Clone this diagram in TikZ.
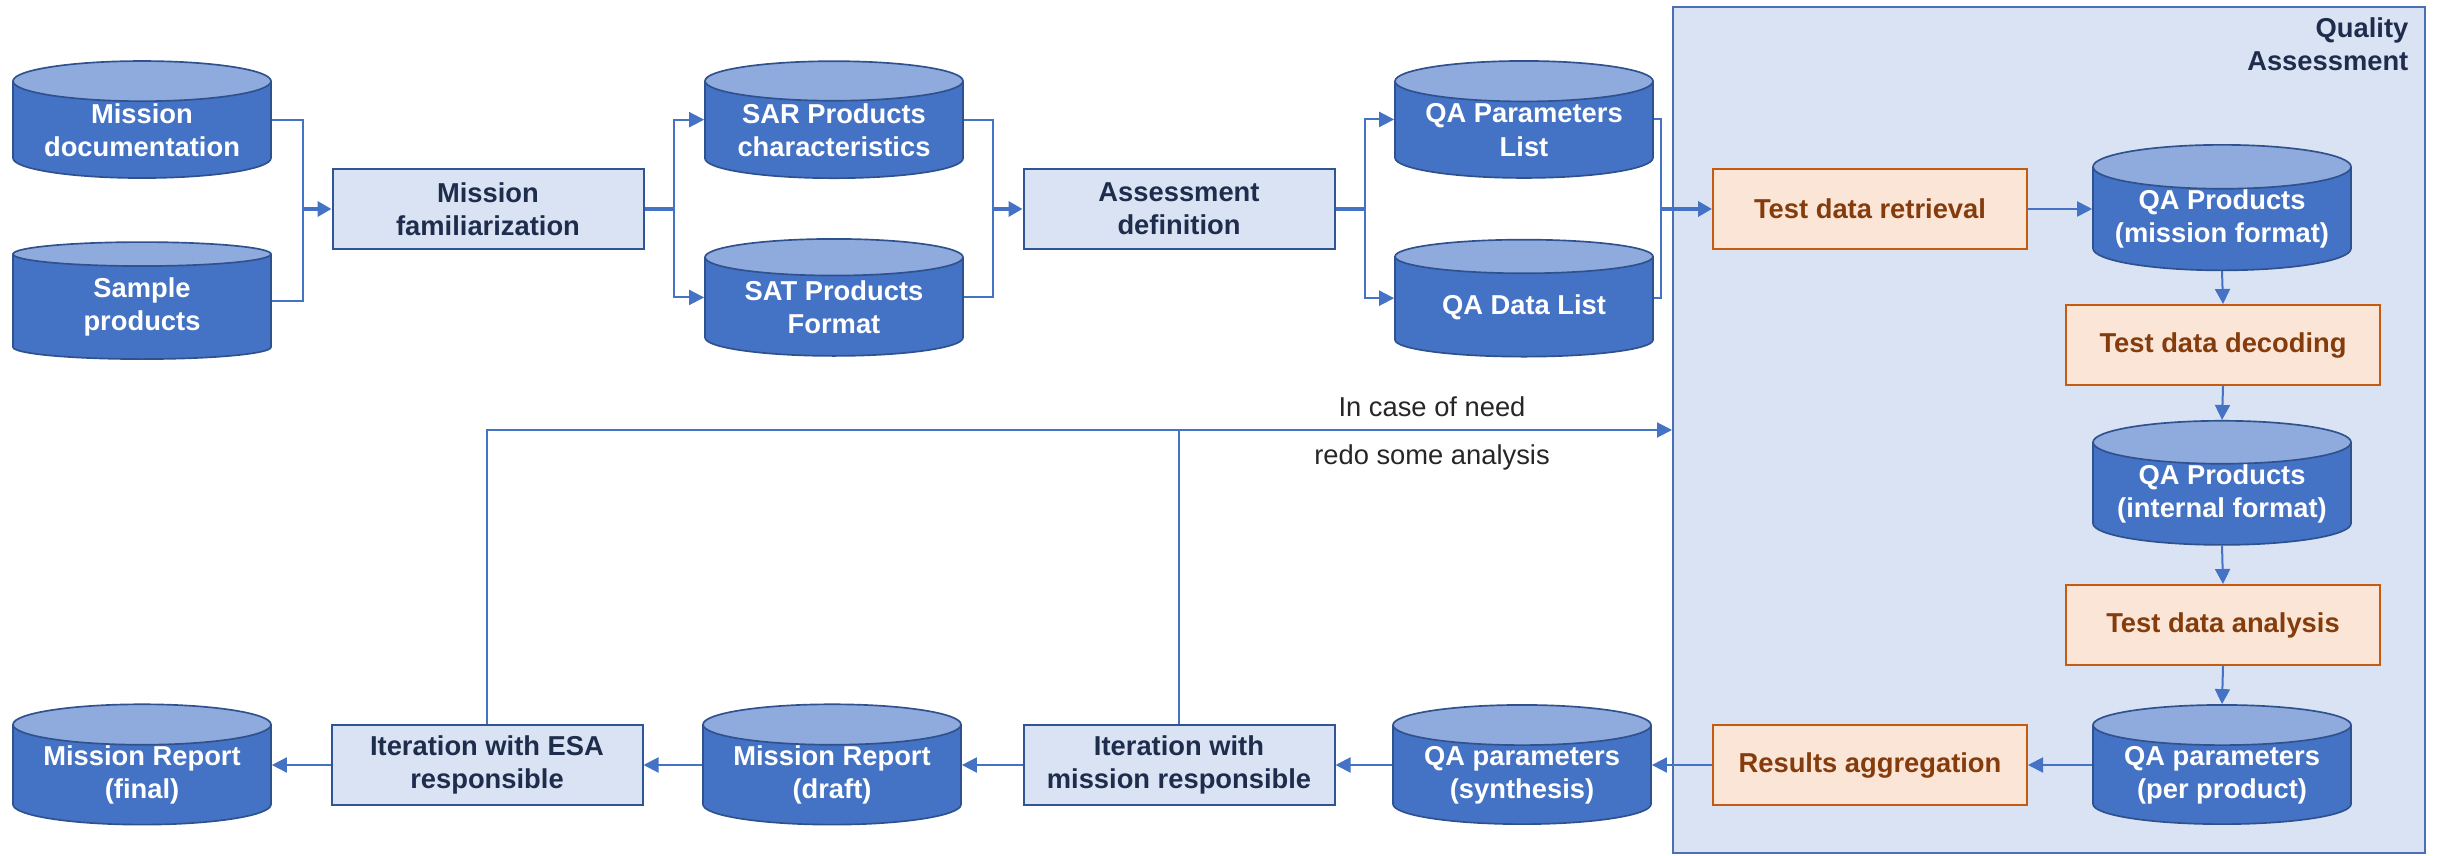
\documentclass[tikz,border=0pt]{standalone}
\usepackage{fontspec}
\setmainfont{Liberation Sans}
\usetikzlibrary{shapes.geometric, arrows.meta}

\definecolor{cylblue}{HTML}{4472C4}
\definecolor{cyltop}{HTML}{8FAADC}
\definecolor{cylline}{HTML}{2F528F}
\definecolor{boxfill}{HTML}{DAE3F3}
\definecolor{boxline}{HTML}{2F5597}
\definecolor{boxtext}{HTML}{1F2D4D}
\definecolor{taskfill}{HTML}{FBE5D6}
\definecolor{taskline}{HTML}{C55A11}
\definecolor{tasktext}{HTML}{843C0C}
\definecolor{flowblue}{HTML}{4472C4}
\definecolor{arealine}{HTML}{4A6FB5}

\begin{document}
\begin{tikzpicture}[x=0.3pt, y=-0.3pt,
    every node/.style={font=\fontsize{8.2}{10}\selectfont\bfseries},
    store/.style={cylinder, shape border rotate=90, aspect=0.205, draw=cylline, line width=0.5pt, cylinder uses custom fill, cylinder body fill=cylblue, cylinder end fill=cyltop, minimum width=77.4pt, minimum height=35.1pt, inner sep=0pt, text=white, align=center},
    activity/.style={rectangle, draw=boxline, line width=0.6pt, fill=boxfill, minimum width=93.3pt, minimum height=24pt, inner sep=0pt, text=boxtext, align=center},
    qatask/.style={rectangle, draw=taskline, line width=0.6pt, fill=taskfill, minimum width=94.2pt, minimum height=24pt, inner sep=0pt, text=tasktext, align=center},
    qaarea/.style={rectangle, draw=arealine, line width=0.6pt, fill=boxfill, minimum width=225.6pt, minimum height=253.8pt, inner sep=0pt},
    note/.style={font=\fontsize{8.2}{10}\selectfont, text=black!85},
    link/.style={draw=flowblue, line width=0.6pt},
    flow/.style={link, -{Triangle[length=4.5pt, width=4.5pt]}},
    merge/.style={draw=flowblue, line width=1.2pt, -{Triangle[length=4.2pt, width=4.5pt]}},
    bar/.style={draw=flowblue, line width=1.2pt}
]
\useasboundingbox (0,0) rectangle (2441,856);

% quality assessment area
\node[qaarea] (qa) at (2049,430) {};
\node[text=boxtext, align=right, anchor=east, inner sep=0pt] (qatitle) at (2409,44) {Quality\\Assessment};

% top row
\node[store] (doc) at (142,130) {Mission\\documentation};
\node[store] (sample) at (142,307) {Sample\\products};
\node[activity] (fam) at (488,209) {Mission\\familiarization};
\node[store] (sar) at (834,130) {SAR Products\\characteristics};
\node[store] (sat) at (834,307) {SAT Products\\Format};
\node[activity] (assess) at (1179,209) {Assessment\\definition};
\node[store] (qalist) at (1524,130) {QA Parameters\\List};
\node[store] (qadata) at (1524,307) {QA Data List};

% inside the assessment
\node[qatask] (retrieval) at (1870,209) {Test data retrieval};
\node[store] (qamission) at (2222,219) {QA Products\\(mission  format)};
\node[qatask] (decoding) at (2223,345) {Test data decoding};
\node[store] (qainternal) at (2222,494) {QA Products\\(internal format)};
\node[qatask] (analysis) at (2223,625) {Test data analysis};
\node[store] (perprod) at (2222,775) {QA parameters\\(per product)};
\node[qatask] (aggreg) at (1870,765) {Results  aggregation};

% bottom row
\node[store] (synth) at (1522,775) {QA parameters\\(synthesis)};
\node[activity] (resp) at (1179,765) {Iteration with\\mission  responsible};
\node[store] (draft) at (832,775) {Mission Report\\(draft)};
\node[activity] (esa) at (487,765) {Iteration with ESA\\responsible};
\node[store] (final) at (142,775) {Mission Report\\(final)};

% feedback labels
\node[note] (need) at (1432,407) {In case of need};
\node[note] (redo) at (1432,457) {redo some analysis};

% joins and splits
\coordinate (j1) at (303,209);
\coordinate (s1) at (674,209);
\coordinate (j2) at (993,209);
\coordinate (s2) at (1365,209);
\coordinate (j3) at (1661,209);

\draw[link] (doc.east |- doc.shape center) -| (j1) |- (sample.east |- sample.shape center);
\draw[merge] (j1) -- (fam.west);
\draw[bar] (fam.east) -- (s1);
\draw[flow] (s1) |- (sar.west |- sar.shape center);
\draw[flow] (s1) |- (sat.west |- sat.shape center);
\draw[link] (sar.east |- sar.shape center) -| (j2) |- (sat.east |- sat.shape center);
\draw[merge] (j2) -- (assess.west);
\draw[bar] (assess.east) -- (s2);
\draw[flow] (s2) |- (qalist.west |- qalist.shape center);
\draw[flow] (s2) |- (qadata.west |- qadata.shape center);
\draw[link] (qalist.east |- qalist.shape center) -| (j3) |- (qadata.east |- qadata.shape center);
\draw[merge] (j3) -- (retrieval.west);

% assessment chain
\draw[flow] (retrieval.east) -- (qamission.west |- retrieval.east);
\draw[flow] (qamission.south) -- (decoding.north);
\draw[flow] (decoding.south) -- (qainternal.north);
\draw[flow] (qainternal.south) -- (analysis.north);
\draw[flow] (analysis.south) -- (perprod.north);
\draw[flow] (perprod.west |- aggreg.east) -- (aggreg.east);
\draw[flow] (aggreg.west) -- (synth.east |- aggreg.west);
\draw[flow] (synth.west |- resp.east) -- (resp.east);
\draw[flow] (resp.west) -- (draft.east |- resp.west);
\draw[flow] (draft.west |- esa.east) -- (esa.east);
\draw[flow] (esa.west) -- (final.east |- esa.west);

% feedback loop
\draw[flow] (esa.north) |- (qa.west);
\draw[link] (resp.north) -- (resp.north |- qa.west);
\end{tikzpicture}
\end{document}
